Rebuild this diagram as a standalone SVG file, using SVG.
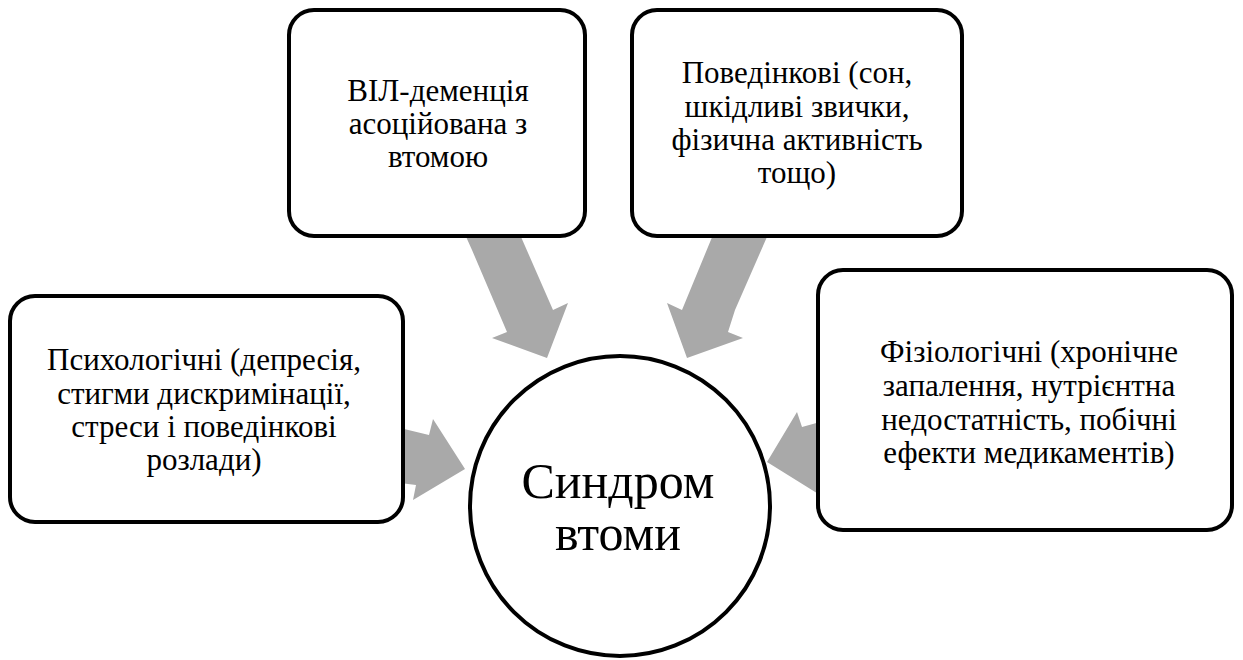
<svg xmlns="http://www.w3.org/2000/svg" width="1243" height="660" viewBox="0 0 1243 660">
<style>
.box{fill:#fff;stroke:#000;stroke-width:4}
.arr{fill:#a9a9a9;stroke:none}
.t{font-family:"Liberation Serif","Times New Roman",serif;font-size:31px;fill:#000;text-anchor:middle}
.c{font-family:"Liberation Serif","Times New Roman",serif;font-size:50px;fill:#000;text-anchor:middle}
</style>
<rect width="1243" height="660" fill="#fff"/>
<g id="connectors">
<polygon class="arr" points="463,230 518,230 553,310 568,303 547,358 492,338 507,332 472,250"/>
<polygon class="arr" points="715,230 770,230 735,310 728,332 743,338 687,358 667,303 682,310"/>
<polygon class="arr" points="400,428 429,435 433,419 465,469 413,500 416,485 400,483"/>
<polygon class="arr" points="820,422 802,427 797,412 767,462 820,495"/>
</g>
<g id="node-vil">
<rect class="box" x="289" y="10" width="296" height="226" rx="25"/>
<text class="t" x="438" y="101">ВІЛ-деменція</text>
<text class="t" x="438" y="134">асоційована з</text>
<text class="t" x="438" y="167">втомою</text>
</g>
<g id="node-behav">
<rect class="box" x="632" y="10" width="330" height="226" rx="25"/>
<text class="t" x="797" y="83">Поведінкові (сон,</text>
<text class="t" x="797" y="117">шкідливі звички,</text>
<text class="t" x="797" y="150">фізична активність</text>
<text class="t" x="797" y="183">тощо)</text>
</g>
<g id="node-psych">
<rect class="box" x="10" y="296" width="393" height="226" rx="25"/>
<text class="t" x="204" y="370">Психологічні (депресія,</text>
<text class="t" x="204" y="404">стигми дискримінації,</text>
<text class="t" x="204" y="437">стреси і поведінкові</text>
<text class="t" x="204" y="470">розлади)</text>
</g>
<g id="node-phys">
<rect class="box" x="818" y="270" width="414" height="260" rx="25"/>
<text class="t" x="1029" y="362">Фізіологічні (хронічне</text>
<text class="t" x="1029" y="396">запалення, нутрієнтна</text>
<text class="t" x="1029" y="430">недостатність, побічні</text>
<text class="t" x="1029" y="463">ефекти медикаментів)</text>
</g>
<g id="node-center">
<circle class="box" cx="620" cy="506" r="150"/>
<text class="c" x="618" y="498">Синдром</text>
<text class="c" x="618" y="550">втоми</text>
</g>
</svg>
